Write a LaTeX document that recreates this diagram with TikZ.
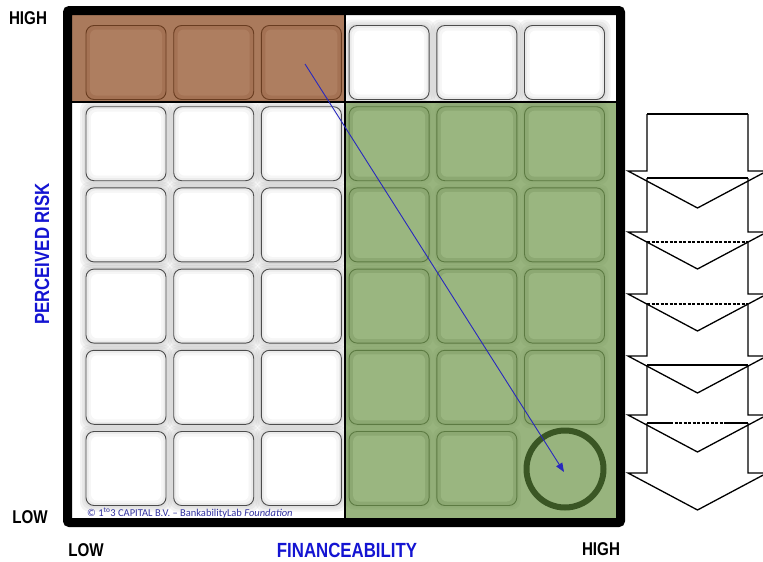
\documentclass[tikz,border=0pt]{standalone}
\usepackage{fontspec}
\newfontfamily\narrowfont{Liberation Sans}[FakeStretch=0.82]
\newfontfamily\copyfont{Carlito}
\usetikzlibrary{arrows.meta}
\definecolor{brownbg}{RGB}{170,122,92}
\definecolor{brownbox}{RGB}{164,114,84}
\definecolor{brownin}{RGB}{174,126,96}
\definecolor{brownline}{RGB}{105,60,32}
\definecolor{greenbg}{RGB}{152,180,126}
\definecolor{greenbox}{RGB}{140,168,114}
\definecolor{greenin}{RGB}{154,182,128}
\definecolor{greenline}{RGB}{92,122,66}
\definecolor{ringgreen}{RGB}{58,86,36}
\definecolor{labelblue}{RGB}{20,20,210}
\definecolor{copyblue}{RGB}{50,50,160}
\definecolor{arrowblue}{RGB}{40,40,190}
\begin{document}
\begin{tikzpicture}[x=1pt,y=-1pt,
  cellbox/.style={rectangle, rounded corners=8pt, minimum width=80pt, minimum height=74pt, inner sep=0pt, line width=0.9pt},
  whitecell/.style={cellbox, fill=gray!16, draw=black!70},
  greencell/.style={cellbox, fill=greenbox, draw=greenline},
  browncell/.style={cellbox, fill=brownbox, draw=brownline},
  axislabel/.style={font=\narrowfont\bfseries\fontsize{18.5}{20}\selectfont, inner sep=0pt},
  bluelabel/.style={font=\narrowfont\bfseries\fontsize{20.5}{22}\selectfont, text=labelblue, inner sep=0pt},
  blockarrow/.style={draw=black, line width=1.3pt, line join=miter},
  arrowtop/.style={draw=black, line width=1.3pt},
  arrowtopdash/.style={draw=black, line width=1.3pt, dash pattern=on 3pt off 1.5pt}
]
\useasboundingbox (0,0) rectangle (763,562);
\fill[white] (0,0) rectangle (763,562);

% regions
\fill[brownbg] (72,15) rectangle (345,102);
\fill[white] (345,15) rectangle (616,102);
\fill[white] (72,102) rectangle (345,518);
\fill[greenbg] (345,102) rectangle (616,518);

% glows
\foreach \r/\c in {0/3,0/4,0/5,1/0,1/1,1/2,2/0,2/1,2/2,3/0,3/1,3/2,4/0,4/1,4/2,5/0,5/1,5/2}{
  \pgfmathsetmacro\cx{126+87.7*\c}
  \pgfmathsetmacro\cy{62.5+81.2*\r}
  \foreach \g in {2,4,6}{
    \fill[gray, opacity=0.09, rounded corners=9pt] (\cx-40-\g,\cy-37-\g) rectangle (\cx+40+\g,\cy+37+\g);
  }
}
\foreach \r/\c in {1/3,1/4,1/5,2/3,2/4,2/5,3/3,3/4,3/5,4/3,4/4,4/5,5/3,5/4}{
  \pgfmathsetmacro\cx{126+87.7*\c}
  \pgfmathsetmacro\cy{62.5+81.2*\r}
  \foreach \g in {2,4}{
    \fill[greenline, opacity=0.07, rounded corners=9pt] (\cx-40-\g,\cy-37-\g) rectangle (\cx+40+\g,\cy+37+\g);
  }
}

% white cells
\foreach \r/\c in {0/3,0/4,0/5,1/0,1/1,1/2,2/0,2/1,2/2,3/0,3/1,3/2,4/0,4/1,4/2,5/0,5/1,5/2}{
  \pgfmathsetmacro\cx{126+87.7*\c}
  \pgfmathsetmacro\cy{62.5+81.2*\r}
  \node[whitecell] (cell-\r-\c) at (\cx,\cy) {};
  \fill[gray!7, rounded corners=7pt] (\cx-37.5,\cy-34.5) rectangle (\cx+37.5,\cy+34.5);
  \fill[white, rounded corners=6pt] (\cx-35,\cy-32) rectangle (\cx+35,\cy+32);
}
% brown cells
\foreach \c in {0,1,2}{
  \pgfmathsetmacro\cx{126+87.7*\c}
  \node[browncell] (cell-0-\c) at (\cx,62.5) {};
  \fill[brownin, rounded corners=6pt] (\cx-36,62.5-33) rectangle (\cx+36,62.5+33);
}
% green cells (bottom-right position holds the target ring instead)
\foreach \r/\c in {1/3,1/4,1/5,2/3,2/4,2/5,3/3,3/4,3/5,4/3,4/4,4/5,5/3,5/4}{
  \pgfmathsetmacro\cx{126+87.7*\c}
  \pgfmathsetmacro\cy{62.5+81.2*\r}
  \node[greencell] (cell-\r-\c) at (\cx,\cy) {};
  \fill[greenin, rounded corners=6pt] (\cx-36,\cy-33) rectangle (\cx+36,\cy+33);
}

% dividers
\draw[line width=1.4pt] (72,102) -- (616,102);
\draw[line width=1.4pt] (345,15) -- (345,518);

% frame
\draw[line width=9pt, rounded corners=2pt] (67.5,10.5) rectangle (620.5,522.5);

% target ring
\node[circle, draw=ringgreen, line width=6pt, minimum size=77pt, inner sep=0pt] (target) at (565,469) {};

% blue arrow
\coordinate (arrS) at (305,64);
\coordinate (arrE) at (564,472);
\draw[arrowblue, line width=0.9pt, -{Triangle[length=9pt,width=7pt]}] (arrS) -- (arrE);

% copyright
\node[anchor=west, inner sep=0pt, text=copyblue, font=\copyfont\fontsize{10.5}{12}\selectfont] (copy) at (87,513) {© 1\textsuperscript{to}3 CAPITAL B.V. – BankabilityLab \textit{Foundation}};

% block arrows on the right
\foreach \T/\W in {114/171, 178/232, 242/294, 304/356, 365/415, 423/473}{
  \draw[blockarrow] (647,\T) -- (647,\W) -- (628,\W) -- (697.5,\W+37) -- (767,\W) -- (748,\W) -- (748,\T);
}
\draw[arrowtop] (647,114) -- (748,114);
\draw[arrowtop] (647,178) -- (748,178);
\draw[arrowtopdash] (647,242) -- (748,242);
\draw[arrowtopdash] (647,304) -- (748,304);
\draw[arrowtop] (647,365) -- (748,365);
\draw[arrowtop] (647,423) -- (670,423);
\draw[arrowtopdash] (670,423) -- (725,423);
\draw[arrowtop] (725,423) -- (748,423);

% axis labels
\node[axislabel] (riskhigh) at (28,18) {HIGH};
\node[axislabel] (risklow) at (30,517) {LOW};
\node[axislabel] (finlow) at (86,550) {LOW};
\node[axislabel] (finhigh) at (601,549) {HIGH};
\node[bluelabel] (finlabel) at (347,550) {FINANCEABILITY};
\node[bluelabel, rotate=90] (risklabel) at (42,254) {PERCEIVED RISK};
\end{tikzpicture}
\end{document}
